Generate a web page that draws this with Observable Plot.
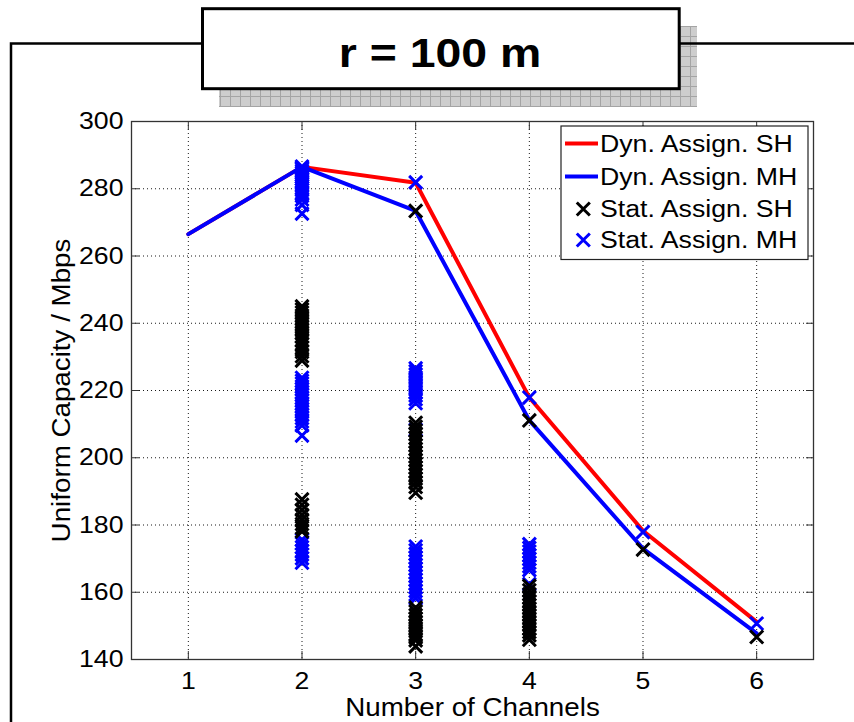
<!DOCTYPE html>
<html>
<head>
<meta charset="utf-8">
<script src="https://cdn.jsdelivr.net/npm/d3@7"></script>
<script src="https://cdn.jsdelivr.net/npm/@observablehq/plot@0.6"></script>
<style>
  html, body { margin: 0; padding: 0; background: #fff; }
  #chart { position: relative; width: 854px; height: 722px; overflow: hidden; }
</style>
</head>
<body>
<div id="chart"></div>
<script>
// Number of channels and the axis ticks
const channels = [1, 2, 3, 4, 5, 6];
const xTicks = [1, 2, 3, 4, 5, 6];
const yTicks = [140, 160, 180, 200, 220, 240, 260, 280, 300];

// Dynamic assignment: uniform capacity in Mbps (single hop / multi hop)
const dynSH = [266.5, 286.5, 281.8, 217.9, 178.3, 151.2];
const dynMH = [266.5, 286.5, 273.4, 211.1, 173.0, 147.8];

// Static assignment outcomes, single hop, per channel count
const statSH2 = [245.0, 244.1, 243.2, 242.3, 241.4, 240.5, 239.7, 238.8, 237.9, 237.0, 236.1, 235.0, 233.9, 232.7, 231.5, 230.2, 228.9,
                 187.6, 186.0, 184.5, 183.0, 181.6, 180.3, 179.2, 178.1];
const statSH3 = [273.4, 210.4, 209.2, 208.1, 207.0, 205.9, 204.8, 203.7, 202.6, 201.5, 200.4, 199.3, 198.2, 197.1, 196.0, 194.9, 193.8, 192.6, 191.3, 189.6,
                 155.4, 154.3, 153.2, 152.2, 151.2, 150.2, 149.3, 148.4, 147.5, 146.6, 145.7, 143.9];
const statSH4 = [211.1, 161.9, 160.6, 159.4, 158.3, 157.2, 156.2, 155.2, 154.2, 153.2, 152.2, 151.2, 150.2, 149.2, 148.2, 147.2, 145.9];
const statSH5 = [172.7];
const statSH6 = [146.7];

// Static assignment outcomes, multi hop, per channel count
const statMH2 = [286.6, 286.2, 285.8, 285.2, 284.7, 284.1, 283.5, 282.9, 282.2, 281.6, 280.9, 280.3, 279.6, 278.8, 277.9, 276.8, 275.2, 272.6,
                 223.8, 222.9, 222.1, 221.2, 220.4, 219.5, 218.7, 217.8, 217.0, 216.1, 215.3, 214.4, 213.6, 212.7, 211.8, 210.8, 209.6, 206.6,
                 175.6, 174.5, 173.4, 172.3, 171.2, 170.1, 168.8];
const statMH3 = [281.9, 226.6, 225.7, 224.8, 223.9, 223.0, 222.1, 221.2, 220.3, 219.4, 218.5, 217.4, 216.2, 208.3,
                 173.6, 172.5, 171.4, 170.3, 169.2, 168.1, 167.0, 165.9, 164.8, 163.7, 162.6, 161.5, 160.4, 159.3, 158.2];
const statMH4 = [217.9, 174.3, 173.2, 172.1, 171.0, 169.9, 168.8, 167.7, 166.6, 162.4];
const statMH5 = [177.9];
const statMH6 = [150.7];

const titleText = "r = 100 m";
const xLabel = "Number of Channels";
const yLabel = "Uniform Capacity / Mbps";
const legendLabels = ["Dyn. Assign. SH", "Dyn. Assign. MH", "Stat. Assign. SH", "Stat. Assign. MH"];

// Tables for the marks
const dynRows = channels.map((c, i) => ({channels: c, sh: dynSH[i], mh: dynMH[i]}));
const toRows = (groups) => groups.flatMap(([c, vals]) => vals.map(v => ({channels: c, capacity: v})));
const statSHRows = toRows([[2, statSH2], [3, statSH3], [4, statSH4], [5, statSH5], [6, statSH6]]);
const statMHRows = toRows([[2, statMH2], [3, statMH3], [4, statMH4], [5, statMH5], [6, statMH6]]);

const RED = "#ff0000", BLUE = "#0000ff", BLACK = "#000000";
const fontFamily = "'Liberation Sans', Arial, Helvetica, sans-serif";
const gridStyle = {stroke: "#000", strokeOpacity: 0.9, strokeDasharray: "1,3", strokeWidth: 1};
const plain = d => String(d);
const LINE_W = 4, MARK_W = 3;

const plot = Plot.plot({
  width: 854,
  height: 722,
  marginTop: 121,
  marginRight: 41,
  marginBottom: 63,
  marginLeft: 131,
  style: {fontFamily, fontSize: "24px", color: "#000", background: "transparent", overflow: "visible"},
  x: {domain: [0.5, 6.5]},
  y: {domain: [140, 300]},
  marks: [
    Plot.gridX(xTicks, gridStyle),
    Plot.gridY(yTicks, gridStyle),
    Plot.frame({stroke: "#333", strokeWidth: 1.3}),
    Plot.axisX(xTicks, {anchor: "bottom", tickSize: -8, tickPadding: 20, stroke: "#333", tickFormat: plain,
      label: xLabel, labelAnchor: "center", labelOffset: 56, labelArrow: "none"}),
    Plot.axisX(xTicks, {anchor: "top", tickSize: -8, stroke: "#333", tickFormat: () => "", label: null}),
    Plot.axisY(yTicks, {anchor: "left", tickSize: -8, tickPadding: 16, stroke: "#333", tickFormat: plain,
      label: yLabel, labelAnchor: "center", labelOffset: 79, labelArrow: "none"}),
    Plot.axisY(yTicks, {anchor: "right", tickSize: -8, stroke: "#333", tickFormat: () => "", label: null}),
    Plot.line(dynRows, {x: "channels", y: "sh", stroke: RED, strokeWidth: LINE_W}),
    Plot.line(dynRows, {x: "channels", y: "mh", stroke: BLUE, strokeWidth: LINE_W}),
    Plot.dot(statMHRows, {x: "channels", y: "capacity", symbol: "times", r: 6, stroke: BLUE, strokeWidth: MARK_W}),
    Plot.dot(statSHRows, {x: "channels", y: "capacity", symbol: "times", r: 6, stroke: BLACK, strokeWidth: MARK_W})
  ]
});

document.getElementById("chart").appendChild(plot);
const svg = d3.select(plot);

// Axis titles are a touch larger than the tick labels
svg.selectAll('[aria-label="x-axis label"], [aria-label="y-axis label"]').attr("font-size", 25);

// The figure's lettering is set slightly wide
function widen(sel, k) {
  sel.each(function () {
    const len = this.getComputedTextLength();
    if (len > 0) {
      this.setAttribute("textLength", (len * k).toFixed(1));
      this.setAttribute("lengthAdjust", "spacingAndGlyphs");
    }
  });
}
widen(svg.selectAll("text"), 1.11);

// Outer figure border, title box with its hatched drop shadow
const defs = svg.append("defs");
const pat = defs.append("pattern").attr("id", "shadow-hatch")
  .attr("patternUnits", "userSpaceOnUse").attr("width", 10).attr("height", 10).attr("x", 0).attr("y", 6);
pat.append("rect").attr("width", 10).attr("height", 10).attr("fill", "#cdcdcd");
pat.append("path").attr("d", "M0 0.5H10M0.5 0V10").attr("stroke", "#a4a4a4").attr("stroke-width", 1);

const deco = svg.append("g");
deco.append("rect").attr("x", 219).attr("y", 26).attr("width", 478).attr("height", 81).attr("fill", "url(#shadow-hatch)");
deco.append("path").attr("d", "M11 722V43.5H860").attr("fill", "none").attr("stroke", "#000").attr("stroke-width", 2.5);
deco.append("rect").attr("x", 202.5).attr("y", 8.7).attr("width", 476.7).attr("height", 80)
  .attr("fill", "#fff").attr("stroke", "#000").attr("stroke-width", 3);
const title = deco.append("text").attr("x", 440).attr("y", 67).attr("text-anchor", "middle")
  .attr("font-family", fontFamily).attr("font-weight", "bold").attr("font-size", 40).text(titleText);
widen(title, 1.16);

// Legend
const lg = svg.append("g").attr("font-family", fontFamily).attr("font-size", 23).attr("text-anchor", "start");
lg.append("rect").attr("x", 561).attr("y", 126).attr("width", 247).attr("height", 133.5)
  .attr("fill", "#fff").attr("stroke", "#222").attr("stroke-width", 1.2);
const baselines = [152, 185, 217, 248];
const swatches = [
  {kind: "line", color: RED},
  {kind: "line", color: BLUE},
  {kind: "times", color: BLACK},
  {kind: "times", color: BLUE}
];
const timesPath = d3.symbol(d3.symbolTimes, Math.PI * 36)();
swatches.forEach((s, i) => {
  const b = baselines[i];
  if (s.kind === "line") {
    lg.append("line").attr("x1", 565).attr("x2", 598).attr("y1", b - 8.5).attr("y2", b - 8.5)
      .attr("stroke", s.color).attr("stroke-width", LINE_W);
  } else {
    lg.append("path").attr("d", timesPath).attr("transform", `translate(583.3,${b - 8})`)
      .attr("fill", "none").attr("stroke", s.color).attr("stroke-width", MARK_W);
  }
  const t = lg.append("text").attr("x", 600).attr("y", b).text(legendLabels[i]);
  widen(t, 1.16);
});
</script>
</body>
</html>
